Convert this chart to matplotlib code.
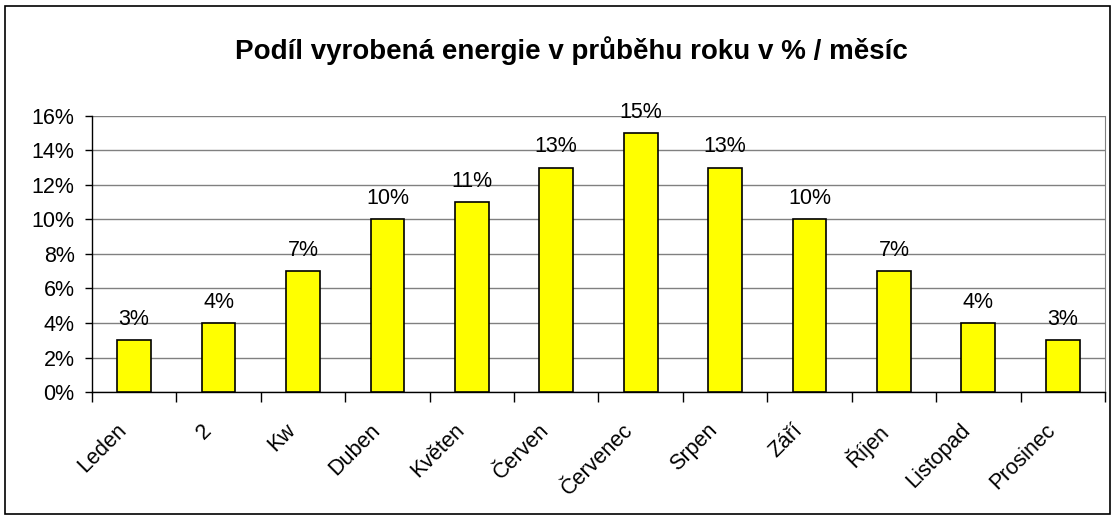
import matplotlib.pyplot as plt
from matplotlib.patches import Rectangle
from matplotlib.ticker import FuncFormatter, MultipleLocator
from matplotlib.transforms import ScaledTranslation

plt.rcParams['font.family'] = ['Liberation Sans', 'DejaVu Sans']

months = ["Leden", "2", "Kw", "Duben", "Květen", "Červen", "Červenec",
          "Srpen", "Září", "Říjen", "Listopad", "Prosinec"]
share = [3, 4, 7, 10, 11, 13, 15, 13, 10, 7, 4, 3]
title = "Podíl vyrobená energie v průběhu roku v % / měsíc"

fig = plt.figure(figsize=(11.16, 5.19), dpi=100)
ax = fig.add_axes([0.0824, 0.2447, 0.9077, 0.5318])

x = range(len(months))
ax.bar(x, share, width=0.4, color="#ffff00", edgecolor="black", linewidth=1.2, zorder=3)
for xi, v in zip(x, share):
    ax.annotate(f"{v}%", (xi, v), xytext=(0, 11), textcoords="offset points",
                ha="center", va="baseline", fontsize=15.5)

ax.set_xlim(-0.5, len(months) - 0.5)
ax.set_ylim(0, 16)
ax.yaxis.set_major_locator(MultipleLocator(2))
ax.yaxis.set_major_formatter(FuncFormatter(lambda v, p: f"{v:.0f}%"))
ax.grid(axis="y", color="#808080", linewidth=1, zorder=0)

# ticks between categories, labels at centres
ax.set_xticks([i - 0.5 for i in range(len(months) + 1)])
ax.set_xticklabels([])
ax.set_xticks(list(x), minor=True)
ax.set_xticklabels(months, minor=True, rotation=45, ha="right", rotation_mode="anchor", fontsize=15.5)
ax.tick_params(axis="x", which="minor", length=0, pad=20)
ax.tick_params(axis="x", which="major", length=7, width=1)
ax.tick_params(axis="y", length=5, width=1, labelsize=15.5, pad=7.5)
shift = ScaledTranslation(-18 / 100, 0, fig.dpi_scale_trans)
for lab in ax.get_xticklabels(minor=True):
    lab.set_transform(lab.get_transform() + shift)

ax.spines["top"].set_visible(False)
ax.spines["right"].set_color("#808080")
ax.spines["left"].set_linewidth(1)
ax.spines["bottom"].set_linewidth(1)

fig.text(0.512, 0.902, title, ha="center", va="center", fontsize=20, fontweight="bold")
fig.patches.append(Rectangle((5 / 1116, 5 / 519), 1 - 11 / 1116, 1 - 11 / 519,
                             transform=fig.transFigure, fill=False, edgecolor="black", linewidth=1.2))

fig.savefig("out.png", dpi=100)
